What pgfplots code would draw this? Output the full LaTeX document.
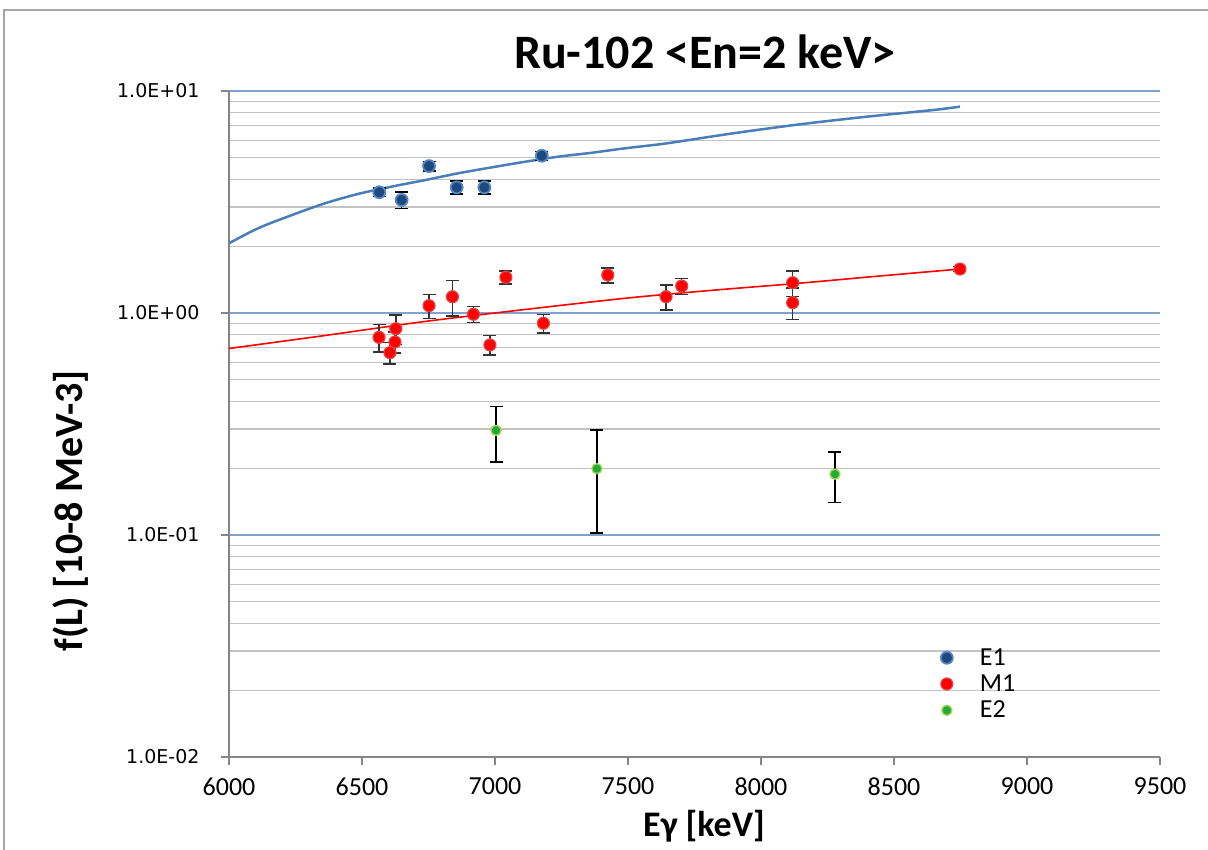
\documentclass[border=0pt]{standalone}
\usepackage{pgfplots}
\pgfplotsset{compat=1.18}
\usepackage{fontspec}
\setmainfont{Carlito}
\newfontfamily\dejavu{DejaVu Sans}
\definecolor{gridblue}{RGB}{127,162,206}
\definecolor{gridgray}{RGB}{195,195,195}
\definecolor{axgray}{RGB}{134,134,134}
\definecolor{eonefill}{RGB}{31,73,125}
\definecolor{eonedraw}{RGB}{84,134,196}
\definecolor{fitblue}{RGB}{74,126,187}
\definecolor{mdraw}{RGB}{225,70,70}
\definecolor{etwofill}{RGB}{30,170,60}
\definecolor{etwodraw}{RGB}{160,210,80}
\begin{document}
\begin{tikzpicture}[x=1pt,y=1pt]
\begin{axis}[
  at={(0pt,0pt)}, anchor=south west,
  scale only axis, width=931pt, height=666pt,
  xmin=6000, xmax=9500, ymode=log, ymin=0.01, ymax=10,
  xtick={6000,6500,7000,7500,8000,8500,9000,9500},
  ytick={0.01,0.1,1,10},
  yticklabels={1.0E-02,1.0E-01,1.0E+00,1.0E+01},
  minor ytick={0.02,0.03,0.04,0.05,0.06,0.07,0.08,0.09,0.2,0.3,0.4,0.5,0.6,0.7,0.8,0.9,2,3,4,5,6,7,8,9},
  axis x line*=bottom, axis y line*=left,
  axis line style={axgray, line width=1.2pt, -},
  tick align=outside, major tick length=8pt, minor tick length=0pt,
  major tick style={axgray, line width=1.2pt},
  ymajorgrids, yminorgrids,
  major grid style={gridblue, line width=1.3pt},
  minor grid style={gridgray, line width=1.3pt},
  xticklabel style={font=\fontsize{26}{26}\selectfont, yshift=-9pt},
  yticklabel style={font=\dejavu\fontsize{19}{19}\selectfont, xshift=-18pt},
  /pgf/number format/assume math mode=true,
  /pgf/number format/1000 sep={},
  legend style={draw=none, fill=none, at={(0.759,0.166)}, anchor=north west,
    font=\fontsize{26}{26}\selectfont, row sep=4pt, inner sep=0pt},
  legend cell align=left,
  legend image code/.code={\path[draw=none,fill=none] (0pt,0pt) -- (42pt,0pt); \draw[#1] plot coordinates {(11pt,0pt)};},
  clip=false,
]
% fitted curves
\addplot[fitblue, line width=2.5pt, smooth, forget plot] coordinates {
 (6000,2.06) (6110,2.41) (6236,2.76) (6361,3.12) (6486,3.44) (6612,3.71)
 (6737,3.97) (6862,4.26) (6988,4.53) (7113,4.80) (7238,5.06) (7364,5.27)
 (7489,5.52) (7645,5.81) (7896,6.45) (8147,7.08) (8397,7.66) (8648,8.21) (8748,8.50)};
\addplot[red, line width=1.6pt, smooth, forget plot] coordinates {
 (6000,0.692) (6361,0.792) (6737,0.916) (7113,1.037) (7489,1.165) (7808,1.263)
 (8147,1.363) (8447,1.468) (8748,1.578)};
% E1
\addplot[only marks, mark=*, mark size=6pt,
  mark options={fill=eonefill, draw=eonedraw, line width=1.8pt},
  error bars/.cd, y dir=both, y explicit,
  error bar style={black, line width=1.5pt},
  error mark options={black, rotate=90, mark size=6.5pt, line width=1.5pt}]
 coordinates {
 (6565,3.50) +- (0,0.15)
 (6649,3.23) +- (0,0.27)
 (6752,4.59) +- (0,0.22)
 (6856,3.68) +- (0,0.25)
 (6960,3.68) +- (0,0.25)
 (7176,5.11) +- (0,0.24)};
\addlegendentry{E1}
% M1
\addplot[only marks, mark=*, mark size=6pt,
  mark options={fill=red, draw=mdraw, line width=1.2pt},
  error bars/.cd, y dir=both, y explicit,
  error bar style={black!80, line width=1.5pt},
  error mark options={black!80, rotate=90, mark size=6.5pt, line width=1.5pt}]
 coordinates {
 (6564,0.777) +- (0,0.11)
 (6627,0.850) +- (0,0.13)
 (6624,0.740) +- (0,0.08)
 (6605,0.663) +- (0,0.075)
 (6752,1.079) +- (0,0.135)
 (6840,1.184) +- (0,0.215)
 (6919,0.987) +- (0,0.08)
 (6981,0.718) +- (0,0.072)
 (7041,1.448) +- (0,0.095)
 (7182,0.899) +- (0,0.087)
 (7424,1.483) +- (0,0.115)
 (7643,1.184) +- (0,0.15)
 (7702,1.323) +- (0,0.11)
 (8119,1.369) +- (0,0.18)
 (8119,1.113) +- (0,0.18)
 (8748,1.578) +- (0,0.04)};
\addlegendentry{M1}
% E2
\addplot[only marks, mark=*, mark size=5pt,
  mark options={fill=etwofill, draw=etwodraw, line width=1.4pt},
  error bars/.cd, y dir=both, y explicit,
  error bar style={black, line width=1.8pt},
  error mark options={black, rotate=90, mark size=6.5pt, line width=1.8pt}]
 coordinates {
 (7004,0.296) +- (0,0.083)
 (7383,0.199) +- (0,0.097)
 (8278,0.188) +- (0,0.048)};
\addlegendentry{E2}
\end{axis}
\node[font=\bfseries\fontsize{48}{48}\selectfont] at (476pt,705pt) {Ru-102 <En=2 keV>};
\node[font=\bfseries\fontsize{36}{36}\selectfont] at (475pt,-69pt) {Eγ [keV]};
\node[font=\bfseries\fontsize{40}{40}\selectfont, rotate=90] at (-158pt,246pt) {f(L) [10-8 MeV-3]};
\draw[gray!70, line width=2pt] (-225pt,-200pt) -- (-225pt,747pt) -- (1100pt,747pt);
\pgfresetboundingbox
\useasboundingbox (-229pt,-93pt) rectangle (979pt,757pt);
\end{tikzpicture}
\end{document}
